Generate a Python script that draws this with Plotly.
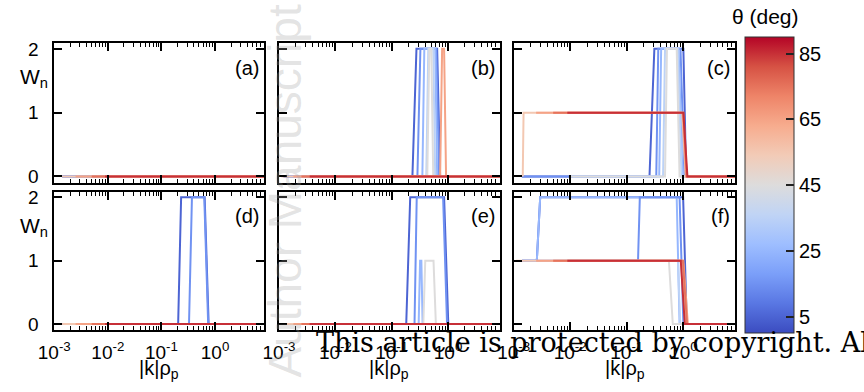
import plotly.graph_objects as go
from plotly.colors import sample_colorscale

# ---------------- data ----------------
THETA = [5, 15, 25, 35, 45, 55, 65, 75, 85]          # deg, draw order
COOLWARM = ["#3b4cc0", "#5977e3", "#7b9ff9", "#9ebeff", "#c0d4f5", "#dddcdc",
            "#f2cbb7", "#f7ac8e", "#ee8468", "#d65244", "#b40426"]
THETA_RANGE = [0, 90]
CBAR_TICKS = [5, 25, 45, 65, 85]

X_TICKVALS = [0.001, 0.01, 0.1, 1]
X_TICKTEXT = ["10<sup>-3</sup>", "10<sup>-2</sup>", "10<sup>-1</sup>", "10<sup>0</sup>"]
Y_TICKVALS = [0, 1, 2]

# panel (a)
A_THETA = THETA
A_K = [[0.0014, 10], [0.0014, 10], [0.01, 10], [0.01, 10], [0.01, 10],
       [0.0014, 10], [0.0025, 10], [0.005, 10], [0.0089, 10]]
A_W = [[0, 0]] * 9

# panel (b)
B_THETA = THETA
B_K = [[0.0012, 0.233, 0.275, 0.641, 0.724, 10],
       [0.0012, 0.286, 0.323, 0.617, 0.695, 10],
       [0.01, 0.350, 0.379, 0.592, 0.641, 10],
       [0.01, 0.411, 0.446, 0.546, 0.592, 10],
       [0.01, 0.428, 0.465, 0.504, 0.546, 10],
       [0.0011, 10],
       [0.0018, 0.724, 0.785, 0.851, 0.923, 10],
       [0.0025, 10],
       [0.0035, 10]]
B_W = [[0, 0, 2, 2, 0, 0], [0, 0, 2, 2, 0, 0], [0, 0, 2, 2, 0, 0], [0, 0, 2, 2, 0, 0],
       [0, 0, 2, 2, 0, 0], [0, 0], [0, 0, 2, 2, 0, 0], [0, 0], [0, 0]]

# panel (c)
C_THETA = THETA
C_K = [[0.0014, 0.252, 0.307, 1.0, 1.12, 10],
       [0.0014, 0.332, 0.36, 0.89, 1.045, 10],
       [0.01, 0.374, 0.405, 0.824, 0.964, 10],
       [0.01, 0.438, 0.474, 0.794, 0.927, 10],
       [0.01, 0.474, 0.513, 0.762, 0.857, 10],
       [0.00145, 0.0015, 0.95, 1.10, 10],
       [0.0025, 0.97, 1.12, 10],
       [0.005, 1.0, 1.15, 10],
       [0.0089, 1.0, 1.18, 10]]
C_W = [[0, 0, 2, 2, 0, 0], [0, 0, 2, 2, 0, 0], [0, 0, 2, 2, 0, 0], [0, 0, 2, 2, 0, 0],
       [0, 0, 2, 2, 0, 0], [0, 1, 1, 0, 0], [1, 1, 0, 0], [1, 1, 0, 0], [1, 1, 0, 0]]

# panel (d)
D_THETA = THETA
D_K = [[0.0014, 0.205, 0.233, 0.641, 0.76, 10],
       [0.0014, 0.327, 0.371, 0.63, 0.745, 10],
       [0.01, 10], [0.01, 10], [0.01, 10],
       [0.0014, 10], [0.0025, 10], [0.005, 10], [0.0089, 10]]
D_W = [[0, 0, 2, 2, 0, 0], [0, 0, 2, 2, 0, 0], [0, 0], [0, 0], [0, 0],
       [0, 0], [0, 0], [0, 0], [0, 0]]

# panel (e)
E_THETA = THETA
E_K = [[0.0012, 0.181, 0.213, 0.851, 1.01, 10],
       [0.0012, 0.254, 0.278, 0.817, 0.96, 10],
       [0.01, 0.301, 0.319, 0.336, 0.354, 10],
       [0.01, 10],
       [0.01, 0.364, 0.394, 0.552, 0.608, 10],
       [0.0011, 10], [0.0018, 10], [0.0025, 10], [0.0035, 10]]
E_W = [[0, 0, 2, 2, 0, 0], [0, 0, 2, 2, 0, 0], [0, 0, 1, 1, 0, 0], [0, 0],
       [0, 0, 1, 1, 0, 0], [0, 0], [0, 0], [0, 0], [0, 0]]

# panel (f)
F_THETA = [5, 25, 15, 35, 45, 55, 65, 75, 85]
F_K = [[0.0014, 0.00257, 0.00295, 0.99, 1.15, 10],
       [0.0014, 0.00257, 0.00295, 0.762, 0.857, 10],
       [0.0014, 0.158, 0.17, 0.857, 1.0, 10],
       [0.01, 0.80, 0.88, 10],
       [0.01, 0.555, 0.65, 10],
       [0.0011, 0.95, 1.12, 10],
       [0.0025, 1.0, 1.2, 10],
       [0.005, 0.98, 1.16, 10],
       [0.0089, 0.90, 1.06, 10]]
F_W = [[1, 1, 2, 2, 0, 0], [1, 1, 2, 2, 0, 0], [1, 1, 2, 2, 0, 0], [1, 1, 0, 0],
       [1, 1, 0, 0], [1, 1, 0, 0], [1, 1, 0, 0], [1, 1, 0, 0], [1, 1, 0, 0]]

PANELS = [("(a)", A_THETA, A_K, A_W), ("(b)", B_THETA, B_K, B_W), ("(c)", C_THETA, C_K, C_W),
          ("(d)", D_THETA, D_K, D_W), ("(e)", E_THETA, E_K, E_W), ("(f)", F_THETA, F_K, F_W)]

# ---------------- layout geometry (pixels) ----------------
W_PX, H_PX = 864, 392
COL_X = [(39, 253), (268, 493), (507, 733)]
ROW_Y = [(39, 182), (191, 333)]
X_RANGE = [-3, 0.92]
Y_RANGE = [-0.1, 2.09]
FONT = "Liberation Sans, Arial, Helvetica, sans-serif"


def fx(px):
    return px / W_PX


def fy(py):
    return 1 - py / H_PX


colorscale = [[i / (len(COOLWARM) - 1), c] for i, c in enumerate(COOLWARM)]
minor_vals = [m * 10.0 ** d for d in range(-3, 1) for m in range(2, 10)]

fig = go.Figure()
layout = dict(width=W_PX, height=H_PX, margin=dict(l=0, r=0, t=0, b=0),
              plot_bgcolor="white", paper_bgcolor="white",
              font=dict(family=FONT, color="black", size=19), showlegend=False)
annotations = []

for i, (label, thetas, ks, ws) in enumerate(PANELS):
    r, c = divmod(i, 3)
    n = i + 1
    xref = "x" if n == 1 else f"x{n}"
    yref = "y" if n == 1 else f"y{n}"
    x0, x1 = COL_X[c]
    y0, y1 = ROW_Y[r]
    for th, k, w in zip(thetas, ks, ws):
        col = sample_colorscale(colorscale, [(th - THETA_RANGE[0]) / (THETA_RANGE[1] - THETA_RANGE[0])])[0]
        fig.add_trace(go.Scatter(x=k, y=w, mode="lines", line=dict(color=col, width=2),
                                 xaxis=xref, yaxis=yref, hoverinfo="skip", showlegend=False))
    layout["xaxis" if n == 1 else f"xaxis{n}"] = dict(
        type="log", range=X_RANGE, domain=[fx(x0), fx(x1)], anchor=yref,
        showline=True, linecolor="black", linewidth=2, mirror="ticks",
        ticks="inside", ticklen=8, tickwidth=1.5, tickcolor="black",
        tickvals=X_TICKVALS, ticktext=X_TICKTEXT, showticklabels=(r == 1),
        tickfont=dict(size=19), ticklabelstandoff=4,
        showgrid=False, zeroline=False,
        minor=dict(tickmode="array", tickvals=minor_vals, ticks="inside", ticklen=4,
                   tickwidth=1, tickcolor="black", showgrid=False))
    layout["yaxis" if n == 1 else f"yaxis{n}"] = dict(
        range=Y_RANGE, domain=[fy(y1), fy(y0)], anchor=xref,
        showline=True, linecolor="black", linewidth=2, mirror="ticks",
        ticks="inside", ticklen=8, tickwidth=1.5, tickcolor="black",
        tickvals=Y_TICKVALS, showticklabels=(c == 0), tickfont=dict(size=19),
        ticklabelstandoff=10, showgrid=False, zeroline=False)
    annotations.append(dict(text=label, xref="paper", yref="paper", x=fx(x1 - 3), y=fy(y0 + 25),
                            xanchor="right", yanchor="middle", showarrow=False,
                            font=dict(size=20)))
    if c == 0:
        annotations.append(dict(text="W<sub>n</sub>", xref="paper", yref="paper", x=fx(18),
                                y=fy(y0 + 36), xanchor="center", yanchor="middle",
                                showarrow=False, font=dict(size=21)))
    if r == 1:
        annotations.append(dict(text="|k|ρ<sub>p</sub>", xref="paper", yref="paper",
                                x=fx((x0 + x1) / 2), y=fy(373), xanchor="center",
                                yanchor="middle", showarrow=False, font=dict(size=20)))

# colour bar via a dummy trace
fig.add_trace(go.Scatter(
    x=[None], y=[None], mode="markers", xaxis="x", yaxis="y", hoverinfo="skip",
    marker=dict(color=[THETA_RANGE[0]], cmin=THETA_RANGE[0], cmax=THETA_RANGE[1],
                colorscale=colorscale, showscale=True,
                colorbar=dict(x=fx(743), xanchor="left", y=fy(33), yanchor="top",
                              len=303 / H_PX, lenmode="fraction", thickness=49,
                              thicknessmode="pixels", xpad=0, ypad=0,
                              outlinewidth=1, outlinecolor="#333",
                              tickvals=CBAR_TICKS, ticks="inside", ticklen=8,
                              tickwidth=1.5, tickcolor="#222", tickprefix="\u00a0",
                              tickfont=dict(size=20)))))

annotations.append(dict(text="θ (deg)", xref="paper", yref="paper", x=fx(764), y=fy(12),
                        xanchor="center", yanchor="middle", showarrow=False,
                        font=dict(size=21)))

# watermarks present on the reference image
annotations.append(dict(text="Author Manuscript", xref="paper", yref="paper", x=fx(274),
                        y=fy(190), textangle=-90, xanchor="center", yanchor="middle",
                        showarrow=False,
                        font=dict(size=46, color="rgba(160,160,160,0.3)", family=FONT)))
annotations.append(dict(text="This article is protected by copyright. All rights reserved.",
                        xref="paper", yref="paper", x=fx(304), y=fy(345), xanchor="left",
                        yanchor="middle", showarrow=False,
                        font=dict(size=27, color="black",
                                  family="DejaVu Serif, Liberation Serif, serif")))

layout["annotations"] = annotations
fig.update_layout(**layout)
fig.write_html("out.html")
